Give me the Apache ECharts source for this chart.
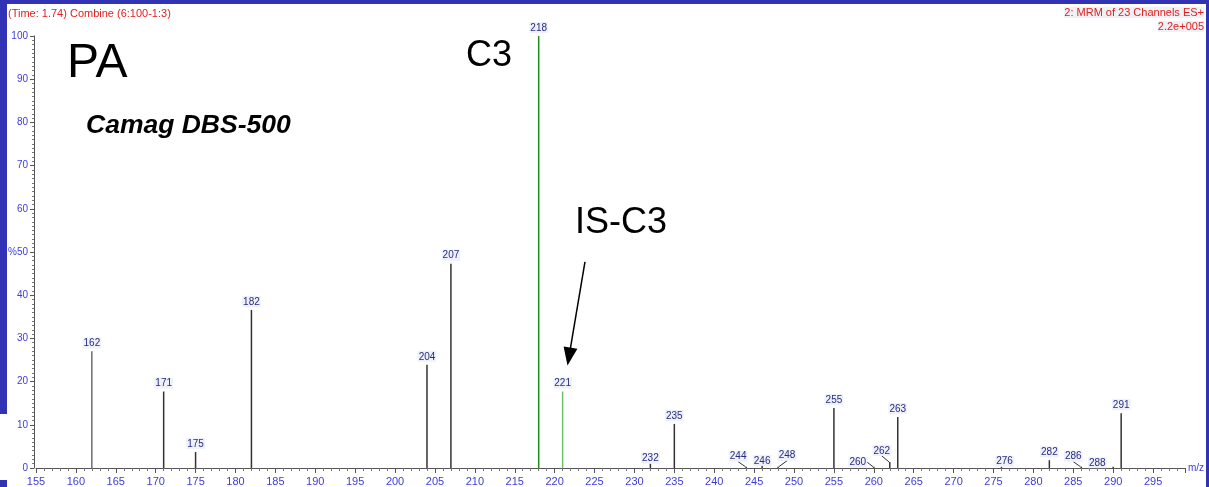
<!DOCTYPE html>
<html>
<head>
<meta charset="utf-8">
<script src="https://cdn.jsdelivr.net/npm/echarts@6/dist/echarts.min.js"></script>
<style>
html,body{margin:0;padding:0;background:#fff;}
#c{width:1209px;height:487px;}
</style>
</head>
<body>
<div id="c"></div>
<script>
// ---- data ----
const peakMz = [162,171,175,182,204,207,218,221,232,235,244,246,248,255,260,262,263,276,282,286,288,290,291];
const peakIntensity = [27.0,17.7,3.7,36.6,23.9,47.3,100,17.7,1.0,10.2,0.3,0.7,0.3,13.9,0.3,1.4,11.8,0.3,1.8,0.3,0.2,0.3,12.7];
const unlabeled = [290];
const xTicks = {min:155, max:299, step:5};
const yTicks = {min:0, max:100, step:10};
const headerLeft = '(Time: 1.74) Combine (6:100-1:3)';
const headerRight1 = '2: MRM of 23 Channels ES+';
const headerRight2 = '2.2e+005';
const arrowFrom = [223.8, 47.7];
const arrowTo = [221.8, 25.8];

// ---- styles (kept apart from data) ----
const peakColor = {218:'#1f8a1f', 221:'#6cc06c', 162:'#6e6e6e'};
const labelNudge = {
  232:[0,3], 244:[-8,-2], 246:[0,4], 248:[9,-3], 260:[-16,4], 262:[-8,-3],
  276:[3,3], 286:[-8,-2], 288:[0,4]
};
const leader = [244,248,260,262,286];
const blue = '#3c3cdc';
const borderBlue = '#3232b4';

const data = peakMz.map((mz,i)=>{
  const item = {value:[mz, peakIntensity[i]], itemStyle:{color: peakColor[mz] || '#333333'}};
  if (unlabeled.includes(mz)) item.label = {show:false};
  if (leader.includes(mz)) item.labelLine = {show:true};
  return item;
});

const chart = echarts.init(document.getElementById('c'), null, {renderer:'canvas'});
chart.setOption({
  animation:false,
  backgroundColor:'#ffffff',
  grid:{left:36, right:24, top:36, bottom:15.5, containLabel:false},
  xAxis:{
    type:'value', min:xTicks.min, max:xTicks.max, interval:xTicks.step,
    name:'m/z', nameLocation:'end', nameGap:3,
    nameTextStyle:{color:blue, fontSize:10, fontFamily:'Liberation Sans', verticalAlign:'middle'},
    axisLine:{show:true, onZero:false, lineStyle:{color:'#555', width:1}},
    axisTick:{show:true, length:5, lineStyle:{color:'#555'}},
    minorTick:{show:true, splitNumber:5, length:3, lineStyle:{color:'#777'}},
    axisLabel:{color:blue, fontSize:11, fontFamily:'Liberation Sans', margin:8, showMaxLabel:false},
    splitLine:{show:false}
  },
  yAxis:{
    type:'value', min:yTicks.min, max:yTicks.max, interval:yTicks.step, offset:2,
    axisLine:{show:true, lineStyle:{color:'#555', width:1}},
    axisTick:{show:true, length:4, lineStyle:{color:'#555'}},
    minorTick:{show:true, splitNumber:10, length:2, lineStyle:{color:'#777'}},
    axisLabel:{color:blue, fontSize:10, fontFamily:'Liberation Sans', margin:6,
      formatter:v=> v===50 ? '%50' : String(v)},
    splitLine:{show:false}
  },
  series:[{
    type:'bar',
    barWidth:1.5,
    data:data,
    label:{show:true, position:'top', distance:3, fontSize:10, fontFamily:'Liberation Sans',
      color:'#2a2a80', backgroundColor:'rgba(235,240,248,0.9)', padding:[1,1,0,1],
      formatter:p=>String(p.value[0])},
    labelLine:{show:false, lineStyle:{color:'#333', width:1}},
    labelLayout:function(p){
      const mz = peakMz[p.dataIndex];
      const n = labelNudge[mz];
      return n ? {dx:n[0], dy:n[1]} : {};
    },
    markLine:{
      silent:true, animation:false,
      symbol:['none','triangle'], symbolSize:[14,18],
      label:{show:false},
      lineStyle:{color:'#000', width:1.5, type:'solid'},
      data:[[{coord:arrowFrom},{coord:arrowTo}]]
    }
  }],
  graphic:[
    {type:'rect', shape:{x:0,y:0,width:1209,height:4}, style:{fill:borderBlue}, silent:true},
    {type:'rect', shape:{x:0,y:0,width:7,height:414}, style:{fill:borderBlue}, silent:true},
    {type:'rect', shape:{x:0,y:480,width:7,height:7}, style:{fill:borderBlue}, silent:true},
    {type:'rect', shape:{x:1206,y:0,width:3,height:487}, style:{fill:borderBlue}, silent:true},
    {type:'text', left:8, top:8, style:{text:headerLeft, fill:'#e02020', font:'11px "Liberation Sans"'}},
    {type:'text', right:5, top:7, style:{text:headerRight1, fill:'#e02020', font:'11px "Liberation Sans"', backgroundColor:'#eef2f6'}},
    {type:'text', right:5, top:21, style:{text:headerRight2, fill:'#e02020', font:'11px "Liberation Sans"', backgroundColor:'#eef2f6'}},
    {type:'text', left:67, top:40, style:{text:'PA', fill:'#000', font:'48px "Liberation Sans"'}},
    {type:'text', left:466, top:38, style:{text:'C3', fill:'#000', font:'36px "Liberation Sans"'}},
    {type:'text', left:575, top:205, style:{text:'IS-C3', fill:'#000', font:'36px "Liberation Sans"'}},
    {type:'text', left:86, top:112, style:{text:'Camag DBS-500', fill:'#000', font:'italic bold 26.5px "Liberation Sans"'}}
  ]
});
</script>
</body>
</html>
